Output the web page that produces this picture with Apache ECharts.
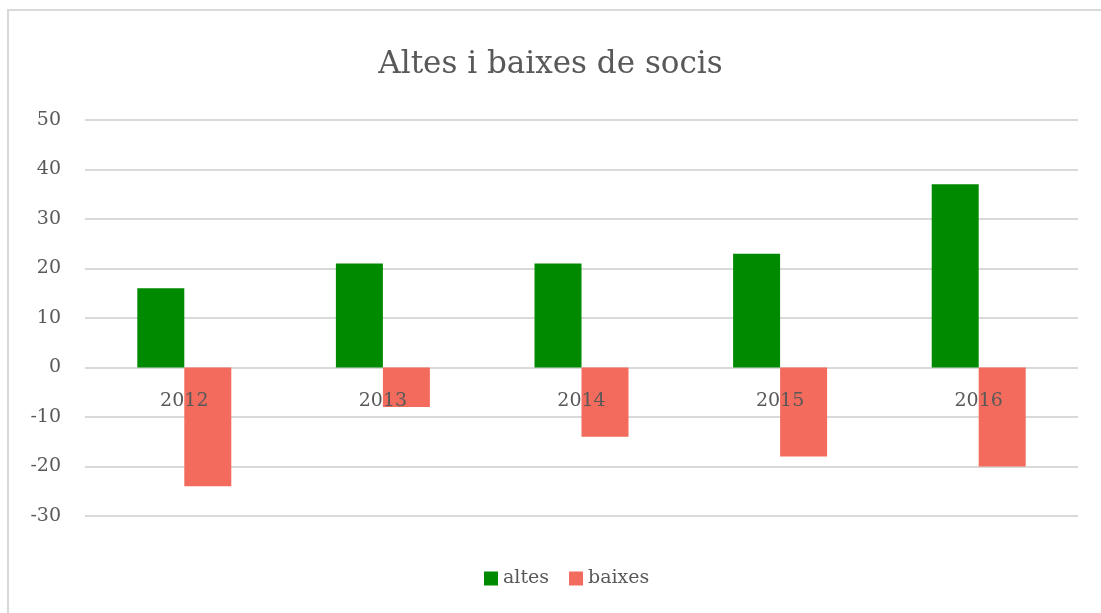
<!DOCTYPE html>
<html>
<head>
<meta charset="utf-8">
<title>Altes i baixes de socis</title>
<script src="https://cdn.jsdelivr.net/npm/echarts@6/dist/echarts.min.js"></script>
<style>
  html, body { margin: 0; padding: 0; background: #fff; overflow: hidden; }
  #wrap { position: relative; width: 1101px; height: 613px; overflow: hidden; }
  #chart { width: 1101px; height: 613px; }
  /* vora del gràfic: només dalt i esquerra són visibles */
  .vora { position: absolute; background: #d9d9d9; pointer-events: none; }
  #voraDalt { left: 7px; top: 9px; width: 1094px; height: 2px; }
  #voraEsq { left: 7px; top: 9px; width: 2px; height: 604px; }
</style>
</head>
<body>
<div id="wrap">
  <div id="chart"></div>
  <div class="vora" id="voraDalt"></div>
  <div class="vora" id="voraEsq"></div>
</div>
<script>
// dades
var anys = ['2012', '2013', '2014', '2015', '2016'];
var altes = [16, 21, 21, 23, 37];
var baixes = [-24, -8, -14, -18, -20];

var fontFamily = '"DejaVu Serif", "Liberation Serif", serif';
var textColor = '#595959';
var gridColor = '#d9d9d9';

var chart = echarts.init(document.getElementById('chart'));

var option = {
    animation: false,
    backgroundColor: '#fff',
    title: {
        text: 'Altes i baixes de socis',
        left: 'center',
        top: 44,
        textStyle: {
            fontFamily: fontFamily,
            fontSize: 31,
            fontWeight: 'normal',
            color: textColor
        }
    },
    legend: {
        bottom: 20,
        left: 479,
        itemWidth: 14,
        itemHeight: 14,
        itemGap: 20,
        icon: 'rect',
        textStyle: {
            fontFamily: fontFamily,
            fontSize: 19,
            color: textColor
        },
        data: ['altes', 'baixes']
    },
    grid: {
        left: 85,
        right: 23,
        top: 120,
        bottom: 97,
        containLabel: false
    },
    xAxis: {
        type: 'category',
        data: anys,
        z: 10,
        offset: -148,
        axisLine: { show: false, onZero: false },
        axisTick: { show: false },
        axisLabel: {
            margin: 24,
            fontFamily: fontFamily,
            fontSize: 19,
            color: textColor
        }
    },
    yAxis: {
        type: 'value',
        min: -30,
        max: 50,
        interval: 10,
        axisLine: { show: false },
        axisTick: { show: false },
        splitLine: { lineStyle: { color: gridColor, width: 2 } },
        axisLabel: {
            margin: 24,
            fontFamily: fontFamily,
            fontSize: 19,
            color: textColor
        }
    },
    series: [{
        name: 'altes',
        type: 'bar',
        data: altes,
        barWidth: 47,
        barGap: '0%',
        itemStyle: { color: '#008a00' }
    }, {
        name: 'baixes',
        type: 'bar',
        data: baixes,
        barWidth: 47,
        itemStyle: { color: '#f26b5c' }
    }]
};

chart.setOption(option);
</script>
</body>
</html>
